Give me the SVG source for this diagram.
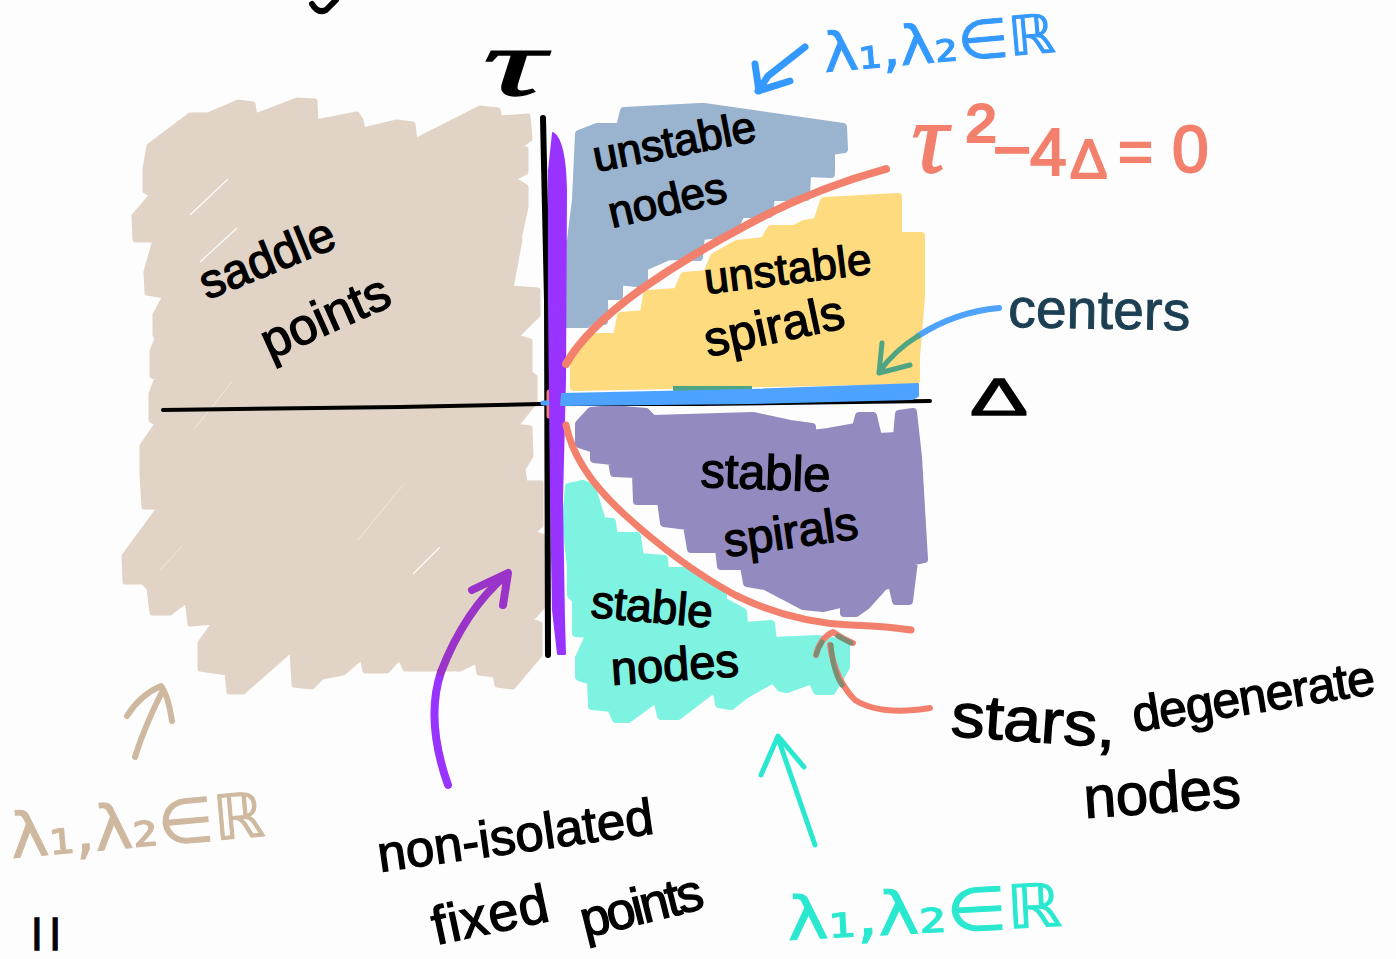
<svg xmlns="http://www.w3.org/2000/svg" width="1396" height="959" viewBox="0 0 1396 959">
<style>
.r{stroke-width:8;stroke-linejoin:round}
.b{stroke-width:5;stroke-linejoin:round}
.s{fill:none;stroke-linecap:round;stroke-linejoin:round}
text{font-family:"Liberation Sans","DejaVu Sans",sans-serif}
.k{fill:#000;stroke:#000;stroke-width:1.3}
.m{font-family:"DejaVu Sans","Liberation Sans",sans-serif;stroke-width:1}
.t{font-family:"Liberation Serif","DejaVu Serif",serif;font-style:italic}
</style>
<rect width="1396" height="959" fill="#fdfdfd"/>
<g id="regions">
<path id="saddle-region" class="b" fill="#e1d3c5" stroke="#e1d3c5" d="M149 146L190 115 208 115 238 102 253 104 255 116 297 100 315 101 316 122 357 114 361 120 363 130 397 122 413 124 415 141 480 108 498 110 500 118 528 116 530 139 516 149 526 149 526 172 513 179 526 187 526 207 518 244 520 240 511 288 538 290 538 315 516 337 530 341 530 373 535 377 535 402 516 426 530 428 531 456 523 469 525 483 541 483 541 525 533 533 545 537 545 604 531 620 540 624 540 655 513 687 497 685 495 675 479 673 477 661 460 669 425 669 405 669 400 657 387 671 365 671 362 657 343 673 322 677 312 687 294 685 292 649 243 692 229 692 227 673 200 669 200 643 215 622 190 624 187 600 170 613 152 613 149 588 143 582 125 582 124 556 160 507 144 507 142 475 142 446 157 424 151 420 151 394 157 378 152 376 152 351 157 339 155 335 155 315 165 296 147 293 146 272 155 240 135 240 134 216 152 195 145 191 145 169Z"/>
<g fill="none" stroke="#fdfdfd">
<path stroke-width="1.2" d="M228 179L190 215M237 228L200 262M440 547L413 574"/>
<path stroke-width=".5" d="M232 382L195 428M403 485L358 540M183 545L160 570"/>
</g>
<path id="unstable-nodes-region" class="r" fill="#9ab3cf" stroke="#9ab3cf" d="M624 111L700 107 704 107 843 127 844 149 831 151 831 174 807 173 806 197 771 197 769 214 741 214 732 233 701 236 699 257 669 256 644 267 644 284 619 281 619 296 604 296 604 321 587 322 587 324 562 324 562 263 571 240 576 200 579 134 597 127 620 127Z"/>
<path id="unstable-spirals-region" class="r" fill="#fddb7e" stroke="#fddb7e" d="M574 351L597 337 617 337 621 316 644 314 647 294 677 292 684 276 707 274 714 257 737 244 764 241 771 229 794 229 804 224 817 222 824 201 898 197 898 236 921 236 921 297 916 357 916 380 574 387Z"/>
<path id="stable-spirals-region" class="r" fill="#938ac0" stroke="#938ac0" d="M591 411L612 409 646 412 653 419 753 416 790 424 812 427 812 434 828 432 856 427 859 416 873 416 878 437 897 436 899 414 913 412 918 457 924 559 914 561 909 601 896 601 892 584 884 586 866 606 856 613 844 613 844 603 823 608 803 606 765 586 747 583 744 566 721 566 719 549 691 549 687 526 664 523 661 501 637 501 636 474 614 473 612 461 594 459 594 449 579 444 579 424Z"/>
<path id="stable-nodes-region" class="r" fill="#7ff3e2" stroke="#7ff3e2" d="M569 487L583 484 592 488 602 521 612 522 614 536 637 536 640 557 664 559 665 571 689 571 723 592 723 601 743 612 744 626 771 624 773 641 817 639 846 643 846 667 832 691 817 691 812 680 787 689 781 688 773 679 745 695 731 706 719 704 716 687 678 716 661 716 657 698 628 719 616 719 611 708 592 706 591 681 579 677 579 658 590 634 576 633 576 600 571 595 571 567 566 522Z"/>
</g>
<g id="overlaps" fill="#4fa583">
<path d="M673 386H752V394Q714 397 673 394Z"/>
</g>
<g id="axes" class="s">
<path stroke="#000" stroke-width="4" d="M163 410L400 407 540 404 700 404 930 401"/>
<path stroke="#000" stroke-width="6" d="M543 118L547 300 548 655"/>
<path stroke="#f2806c" stroke-width="5" d="M549 392V416"/>
<path fill="#9933ff" stroke="#9933ff" stroke-width="2" d="M553 133Q565 140 566 190L565 380 562 500 564 620 565 654 558 654 553 610 551 500 549 300 549 170Z"/>
<path fill="#4da3ff" stroke="#4da3ff" stroke-width="2" d="M562 394L750 390 918 384 918 396 912 399 750 403 561 405Z"/>
<path stroke="#4da3ff" stroke-width="5" d="M543 403H547"/>
</g>
<g id="curves" class="s">
<path stroke="#f2806c" stroke-width="8" d="M886 169Q810 190 745 226 690 255 640 290 585 330 566 364"/>
<path stroke="#f2806c" stroke-width="7" d="M566 425Q575 470 625 515 680 565 735 595 790 622 850 625 885 626 911 630"/>
<path stroke="#f2806c" stroke-width="6" d="M930 708Q880 716 855 700 835 680 830 645M816 655Q820 638 833 632 845 640 853 643"/>
<path stroke="#7d8c72" stroke-width="5" d="M831 645Q833 672 842 685M816 655Q818 648 822 642M838 636L851 643"/>
</g>
<g id="arrows" class="s">
<path stroke="#3399ff" stroke-width="7" d="M805 47L768 76 758 91 790 81M755 64L759 91"/>
<path stroke="#4da3ff" stroke-width="6" d="M999 308Q955 312 918 336"/>
<path stroke="#4fa583" stroke-width="5" d="M918 336Q895 350 879 372M882 343L879 373 910 365"/>
<path stroke="#2ae8d0" stroke-width="5" d="M815 845L778 738M761 775L778 736 804 767"/>
<path stroke="#9933ff" stroke-width="8" d="M448 785Q425 720 441 672"/>
<path stroke="#9a33c8" stroke-width="8" d="M441 672Q465 610 506 575M472 590L508 573 503 605"/>
<path stroke="#cfb8a0" stroke-width="6" d="M135 757Q145 725 163 690M127 716Q140 695 161 686 168 695 172 721"/>
</g>
<g id="labels">
<text x="207" y="300" class="k" font-size="48" transform="rotate(-22 207 300)" textLength="142">saddle</text>
<text x="270" y="360" class="k" font-size="51" transform="rotate(-24 270 360)" textLength="136">points</text>
<text x="596" y="172" class="k" font-size="44" transform="rotate(-11 596 172)" textLength="165">unstable</text>
<text x="612" y="228" class="k" font-size="44" transform="rotate(-13 612 228)" textLength="120">nodes</text>
<text x="706" y="294" class="k" font-size="44" transform="rotate(-7 706 294)" textLength="168">unstable</text>
<text x="708" y="357" class="k" font-size="49" transform="rotate(-12 708 357)" textLength="142">spirals</text>
<text x="700" y="487" class="k" font-size="49" transform="rotate(2 700 487)" textLength="130">stable</text>
<text x="726" y="557" class="k" font-size="47" transform="rotate(-8 726 557)" textLength="135">spirals</text>
<text x="590" y="617" class="k" font-size="46" transform="rotate(5 590 617)" textLength="122">stable</text>
<text x="612" y="685" class="k" font-size="47" transform="rotate(-4 612 685)" textLength="128">nodes</text>
<text x="950" y="736" class="k" font-size="62" transform="rotate(4 950 736)" textLength="165" lengthAdjust="spacingAndGlyphs">stars,</text>
<text x="1135" y="732" class="k" font-size="50" transform="rotate(-9 1135 732)" textLength="245">degenerate</text>
<text x="1085" y="818" class="k" font-size="58" transform="rotate(-4 1085 818)" textLength="157">nodes</text>
<text x="380" y="872" class="k" font-size="51" transform="rotate(-8 380 872)" textLength="278">non-isolated</text>
<text x="436" y="945" class="k" font-size="54" transform="rotate(-12 436 945)" textLength="118">fixed</text>
<text x="585" y="938" class="k" font-size="52" transform="rotate(-14 585 938)" textLength="125">points</text>
<text x="1008" y="327" font-size="55" fill="#1d3f54" stroke="#1d3f54" stroke-width="1" transform="rotate(1 1008 327)" textLength="182">centers</text>
<text x="483" y="95" class="k t" font-size="96" stroke-width="1" textLength="62" lengthAdjust="spacingAndGlyphs">τ</text>
<text x="970" y="415" class="k" font-size="52" textLength="58" lengthAdjust="spacingAndGlyphs">Δ</text>
<text font-size="66" fill="#f2806c" stroke="#f2806c" stroke-width="2"><tspan x="912" y="172" class="t" font-size="100">τ</tspan><tspan x="966" y="167" font-size="90">²</tspan><tspan x="993" y="172">−</tspan><tspan x="1030" y="175">4</tspan><tspan x="1070" y="178" font-size="56">Δ</tspan><tspan x="1118" y="172" font-size="60">=</tspan><tspan x="1172" y="172">0</tspan></text>
<text x="825" y="72" class="m" font-size="54" fill="#3399ff" stroke="#3399ff" transform="rotate(-5 825 72)" textLength="232" lengthAdjust="spacingAndGlyphs">λ₁,λ₂∈ℝ</text>
<text x="788" y="940" class="m" font-size="60" fill="#2ae8d0" stroke="#2ae8d0" transform="rotate(-3 788 940)" textLength="275" lengthAdjust="spacingAndGlyphs">λ₁,λ₂∈ℝ</text>
<text x="12" y="858" class="m" font-size="62" fill="#cfb8a0" stroke="#cfb8a0" transform="rotate(-5 12 858)" textLength="255" lengthAdjust="spacingAndGlyphs">λ₁,λ₂∈ℝ</text>
<text x="32" y="950" class="k" font-size="44" stroke-width="2" textLength="28">ll</text>
</g>
<path id="top-fragment" class="s" stroke="#000" stroke-width="6" d="M312 4Q318 14 326 10L336 0"/>
</svg>
